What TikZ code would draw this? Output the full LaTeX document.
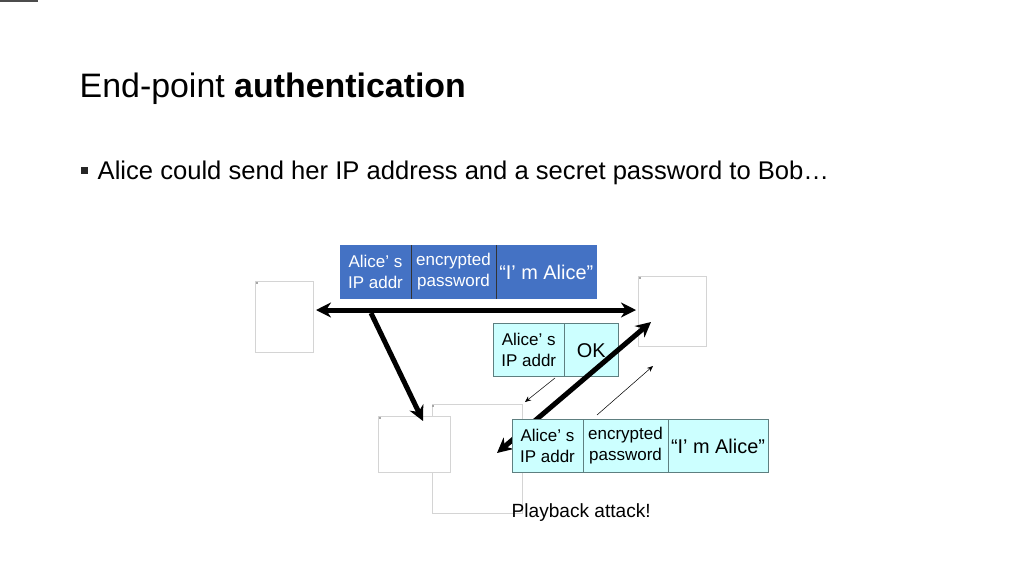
\documentclass[tikz,border=0pt]{standalone}
\usepackage{fontspec}
\setmainfont{Liberation Sans}
\usetikzlibrary{arrows.meta,positioning}
\definecolor{pktblue}{HTML}{4472C4}
\definecolor{pktcyan}{HTML}{CCFFFF}
\definecolor{pktedge}{HTML}{5E7F80}
\definecolor{hostedge}{HTML}{D4D4D4}
\tikzstyle{host}=[rectangle,draw=hostedge,fill=white,line width=0.8pt,inner sep=0pt,anchor=north west]
\tikzstyle{hostmark}=[rectangle,fill=gray!70,minimum size=2pt,inner sep=0pt]
\tikzstyle{wire}=[line width=5pt,-{Stealth[length=15pt,width=15pt]}]
\tikzstyle{wirepair}=[line width=5pt,{Stealth[length=15pt,width=15pt]}-{Stealth[length=15pt,width=15pt]}]
\tikzstyle{thinwire}=[line width=0.5pt,-{Stealth[length=6pt,width=5pt]}]
\tikzset{
  field/.style={rectangle,inner sep=0pt,outer sep=0pt,anchor=north west,align=center,
    font=\fontsize{17}{21}\selectfont,minimum height=#1,
    execute at begin node=\rule{0pt}{16.5pt}},
  bluefield/.style={field=53.5pt,fill=pktblue,draw=pktblue,text=white,line width=0.5pt},
  cyanfield/.style={field=53pt,fill=pktcyan,draw=pktedge,text=black,line width=1pt},
  msgfont/.style={font=\fontsize{19.9}{22}\selectfont},
}

\begin{document}
\begin{tikzpicture}[x=1pt,y=-1pt]
\useasboundingbox (0,0) rectangle (1024,576);
% strip at the page corner
\fill[black!70] (0,0) rectangle (38,2);
% heading
\node (title)[anchor=base west,inner sep=0pt,font=\fontsize{33.9}{38}\selectfont] at (79.5,97) {End-point \textbf{authentication}};
\node (bullet)[rectangle,fill=black!85,minimum size=7pt,inner sep=0pt] at (84,170) {};
\node (line)[anchor=base west,inner sep=0pt,font=\fontsize{25.6}{30}\selectfont] at (97.5,179) {Alice could send her IP address and a secret password to Bob…};
% hosts
\node[host,minimum width=58pt,minimum height=71pt] (alicehost) at (255,281) {};
\node[host,minimum width=68pt,minimum height=70pt] (bobhost) at (638,276) {};
\node[host,minimum width=90pt,minimum height=109pt] (trudyback) at (432,404) {};
\node[host,minimum width=72pt,minimum height=56pt] (trudyhost) at (378,416) {};
\node[hostmark] (ma) at (257,283) {};
\node[hostmark] (mb) at (640,278) {};
\node[hostmark] (mc) at (380,418) {};
\node[hostmark] (md) at (433,406) {};
% blue packet
\node[bluefield,minimum width=71pt] (bip) at (340,245) {Alice’ s\\IP addr};
\node[bluefield,minimum width=85pt,right=0pt of bip] (bpw) {encrypted\\password};
\node[bluefield,minimum width=100.5pt,right=0pt of bpw,msgfont] (bmsg) {“I’ m Alice”};
\draw[line width=0.8pt,black!80] (bip.north east) -- (bip.south east);
\draw[line width=0.8pt,black!80] (bpw.north east) -- (bpw.south east);
% reply packet
\node[cyanfield,minimum width=71.5pt] (cip) at (493,323) {Alice’ s\\IP addr};
\node[cyanfield,minimum width=53.5pt,right=0pt of cip,msgfont] (cok) {OK};
% wires
\coordinate (wl) at (316,310);
\coordinate (wr) at (636,310);
\coordinate (ws) at (371,313);
\coordinate (wt) at (423,421);
\coordinate (rs) at (651,322);
\coordinate (rt) at (497,453);
\coordinate (as) at (555,378);
\coordinate (at) at (525,402);
\coordinate (bs) at (597,415);
\coordinate (bt) at (653,366);
\draw[wirepair] (wl) -- (wr);
\draw[wire] (ws) -- (wt);
\draw[wirepair] (rs) -- (rt);
\draw[thinwire] (as) -- (at);
\draw[thinwire] (bs) -- (bt);
% replayed packet
\node[cyanfield,minimum width=71pt] (dip) at (512,419) {Alice’ s\\IP addr};
\node[cyanfield,minimum width=85pt,right=0pt of dip] (dpw) {encrypted\\password};
\node[cyanfield,minimum width=100pt,right=0pt of dpw,msgfont] (dmsg) {“I’ m Alice”};
\node (attack)[anchor=base west,inner sep=0pt,font=\fontsize{19.1}{22}\selectfont] at (511.5,517) {Playback attack!};
\end{tikzpicture}
\end{document}
